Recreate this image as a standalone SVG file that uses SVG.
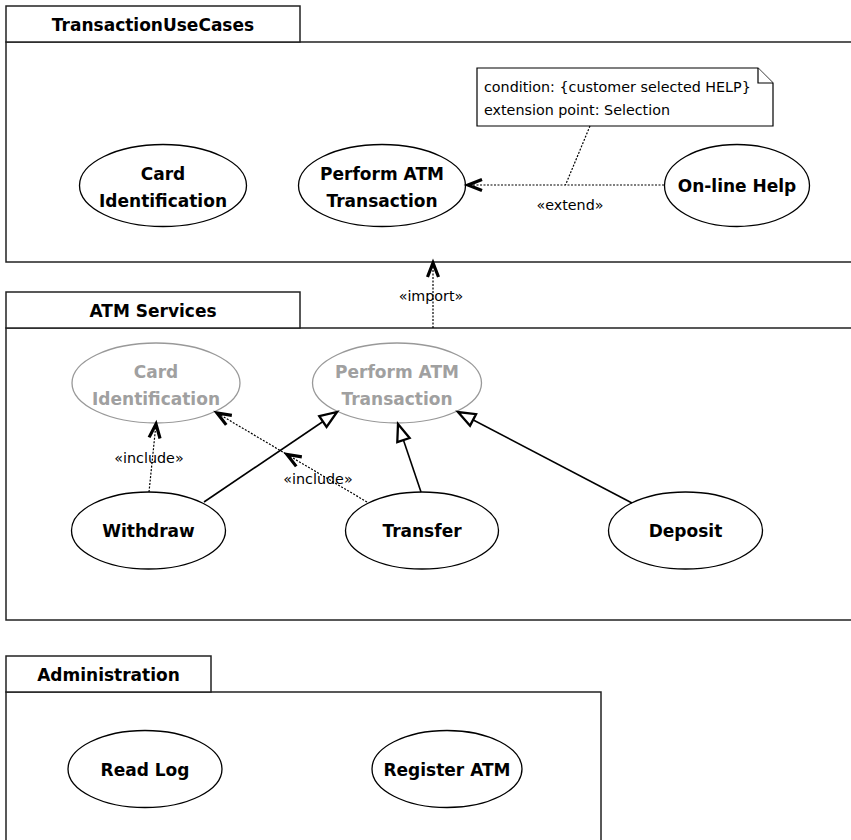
<svg xmlns="http://www.w3.org/2000/svg" width="851" height="840" viewBox="0 0 851 840">
<style>
.pkg{fill:#fff;stroke:#222;stroke-width:1.5}
.tab{font-family:"DejaVu Sans",Verdana,sans-serif;font-weight:bold;font-size:17px;fill:#000;text-anchor:middle}
.uc{fill:#fff;stroke:#000;stroke-width:1.3}
.ucg{fill:#fff;stroke:#999;stroke-width:1.3}
.lbl{font-family:"DejaVu Sans",Verdana,sans-serif;font-weight:bold;font-size:17px;fill:#000;text-anchor:middle}
.lblg{font-family:"DejaVu Sans",Verdana,sans-serif;font-weight:bold;font-size:17px;fill:#a0a0a0;text-anchor:middle}
.txt{font-family:"DejaVu Sans",Verdana,sans-serif;font-size:14.3px;fill:#000}
.dep{fill:none;stroke:#000;stroke-width:1.2;stroke-dasharray:2,1.5}
.gen{fill:none;stroke:#000;stroke-width:1.6}
.note{fill:#fff;stroke:#000;stroke-width:1.2}
</style>
<defs>
<marker id="open" markerWidth="20" markerHeight="16" refX="15" refY="8" orient="auto" markerUnits="userSpaceOnUse" overflow="visible">
<path d="M1,2.5 L15,8 L1,13.5" fill="none" stroke="#000" stroke-width="3.2" stroke-dasharray="none"/>
</marker>
<marker id="tri" markerWidth="20" markerHeight="16" refX="17" refY="7" orient="auto" markerUnits="userSpaceOnUse" overflow="visible">
<path d="M0,0.5 L17,7 L0,13.5 Z" fill="#fff" stroke="#000" stroke-width="2.3" stroke-dasharray="none"/>
</marker>
</defs>

<g id="pkg-TransactionUseCases">
<rect class="pkg" x="6" y="42" width="870" height="220"/>
<rect class="pkg" x="6" y="6" width="294" height="36"/>
<text class="tab" x="153" y="31">TransactionUseCases</text>
</g>
<g id="pkg-ATMServices">
<rect class="pkg" x="6" y="328" width="870" height="292"/>
<rect class="pkg" x="6" y="292" width="294" height="36"/>
<text class="tab" x="153" y="317">ATM Services</text>
</g>
<g id="pkg-Administration">
<rect class="pkg" x="6" y="692" width="595" height="170"/>
<rect class="pkg" x="6" y="656" width="205" height="36"/>
<text class="tab" x="108.5" y="681">Administration</text>
</g>

<g id="note">
<path class="note" d="M477,68 L758,68 L773,83 L773,126 L477,126 Z"/>
<path class="note" d="M758,68 L758,83 L773,83" fill="none"/>
<text class="txt" x="484" y="92">condition: {customer selected HELP}</text>
<text class="txt" x="484" y="115">extension point: Selection</text>
</g>

<g id="uc-CardIdentification">
<ellipse class="uc" cx="163" cy="185.5" rx="83.5" ry="41"/>
<text class="lbl" x="163" y="180">Card</text>
<text class="lbl" x="163" y="207">Identification</text>
</g>
<g id="uc-PerformATMTransaction">
<ellipse class="uc" cx="382" cy="185.5" rx="83.5" ry="41"/>
<text class="lbl" x="382" y="180">Perform ATM</text>
<text class="lbl" x="382" y="207">Transaction</text>
</g>
<g id="uc-OnlineHelp">
<ellipse class="uc" cx="737" cy="185.5" rx="72.5" ry="41"/>
<text class="lbl" x="737" y="191.5">On-line Help</text>
</g>

<g id="uc-CardIdentification-imported">
<ellipse class="ucg" cx="156" cy="383" rx="84" ry="40"/>
<text class="lblg" x="156" y="377.5">Card</text>
<text class="lblg" x="156" y="404.5">Identification</text>
</g>
<g id="uc-PerformATMTransaction-imported">
<ellipse class="ucg" cx="397" cy="383" rx="84.5" ry="40"/>
<text class="lblg" x="397" y="377.5">Perform ATM</text>
<text class="lblg" x="397" y="404.5">Transaction</text>
</g>
<g id="uc-Withdraw">
<ellipse class="uc" cx="148.5" cy="530.5" rx="77" ry="38.5"/>
<text class="lbl" x="148.5" y="537">Withdraw</text>
</g>
<g id="uc-Transfer">
<ellipse class="uc" cx="422" cy="530.5" rx="76.5" ry="38.5"/>
<text class="lbl" x="422" y="537">Transfer</text>
</g>
<g id="uc-Deposit">
<ellipse class="uc" cx="685.5" cy="530.5" rx="77" ry="38.5"/>
<text class="lbl" x="685.5" y="537">Deposit</text>
</g>

<g id="uc-ReadLog">
<ellipse class="uc" cx="145" cy="769" rx="77" ry="38.5"/>
<text class="lbl" x="145" y="775.5">Read Log</text>
</g>
<g id="uc-RegisterATM">
<ellipse class="uc" cx="447" cy="769" rx="75" ry="38.5"/>
<text class="lbl" x="447" y="775.5">Register ATM</text>
</g>

<g id="connectors">
<path class="dep" d="M664,185 L468,185" marker-end="url(#open)"/>
<path class="dep" d="M590,126 L565.5,185"/>
<text class="txt" x="570" y="210" text-anchor="middle">«extend»</text>

<path class="dep" d="M433,328 L433,263" marker-end="url(#open)"/>
<text class="txt" x="431" y="300.5" text-anchor="middle">«import»</text>

<path class="dep" d="M149,492 L156,424" marker-end="url(#open)"/>
<text class="txt" x="149" y="463" text-anchor="middle">«include»</text>

<polyline class="dep" points="367,502 287,454.5 217,413" marker-mid="url(#open)" marker-end="url(#open)"/>
<text class="txt" x="318" y="484" text-anchor="middle">«include»</text>

<path class="gen" d="M204,502 L337,412" marker-end="url(#tri)"/>
<path class="gen" d="M421,492 L398,424" marker-end="url(#tri)"/>
<path class="gen" d="M632,503 L458,412" marker-end="url(#tri)"/>
</g>
</svg>
